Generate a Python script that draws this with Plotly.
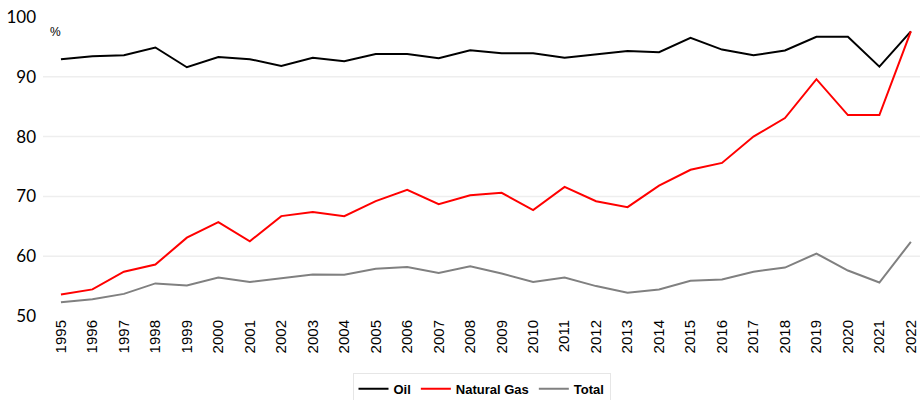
import plotly.graph_objects as go

years = list(range(1995, 2023))
oil = [92.95, 93.45, 93.6, 94.9, 91.6, 93.3, 92.95, 91.8, 93.2, 92.6,
       93.8, 93.8, 93.1, 94.45, 93.95, 93.95, 93.2, 93.8, 94.3, 94.1,
       96.5, 94.55, 93.6, 94.4, 96.7, 96.7, 91.7, 97.6]
gas = [53.6, 54.45, 57.4, 58.6, 63.1, 65.7, 62.5, 66.7, 67.4, 66.7,
       69.2, 71.1, 68.7, 70.2, 70.6, 67.7, 71.6, 69.2, 68.2, 71.8,
       74.45, 75.6, 80.0, 83.1, 89.6, 83.6, 83.6, 97.6]
total = [52.3, 52.8, 53.7, 55.45, 55.1, 56.45, 55.7, 56.3, 56.95, 56.9,
         57.9, 58.2, 57.2, 58.3, 57.1, 55.7, 56.45, 55.0, 53.9, 54.45,
         55.9, 56.1, 57.4, 58.1, 60.45, 57.6, 55.6, 62.4]
y_ticks = [50, 60, 70, 80, 90, 100]
grid_vals = [60, 70, 80, 90]

fig = go.Figure()
fig.add_trace(go.Scatter(x=years, y=oil, mode="lines", name="Oil",
                         line=dict(color="#000000", width=2)))
fig.add_trace(go.Scatter(x=years, y=gas, mode="lines", name="Natural Gas",
                         line=dict(color="#ff0000", width=2)))
fig.add_trace(go.Scatter(x=years, y=total, mode="lines", name="Total",
                         line=dict(color="#808080", width=2)))

for g in grid_vals:
    fig.add_shape(type="line", xref="paper", x0=0, x1=1, yref="y", y0=g, y1=g,
                  line=dict(color="#eeeeee", width=1.5), layer="below")

fig.update_layout(
    width=920, height=400,
    margin=dict(l=43, r=0, t=17, b=84, autoexpand=False),
    paper_bgcolor="white", plot_bgcolor="white",
    showlegend=True,
    legend=dict(orientation="h", x=0.5, xanchor="center", y=-0.19, yanchor="top",
                bordercolor="#e6e6e6", borderwidth=1,
                font=dict(family="Liberation Sans", size=13, color="#000000", weight="bold"),
                itemwidth=30, tracegroupgap=0),
    xaxis=dict(range=[1994.43, 2022.29], tickmode="array", tickvals=years,
               ticktext=[str(y) for y in years], tickangle=-90, automargin=False,
               showgrid=False, zeroline=False, showline=False, ticks="",
               tickfont=dict(family="Liberation Sans", size=15, color="#000000")),
    yaxis=dict(range=[50, 100], tickmode="array", tickvals=y_ticks, automargin=False,
               showgrid=False, zeroline=False, showline=False, ticks="",
               ticklabelstandoff=6,
               tickfont=dict(family="Lato", size=17, color="#000000")),
    annotations=[dict(text="%", xref="paper", yref="paper", x=0.006, y=0.951,
                      xanchor="left", yanchor="middle", showarrow=False,
                      font=dict(family="Liberation Sans", size=12, color="#000000"))],
)

fig.write_html("out.html", config={"displayModeBar": False},
               post_script="document.body.style.margin='0';document.body.style.overflow='hidden';")
